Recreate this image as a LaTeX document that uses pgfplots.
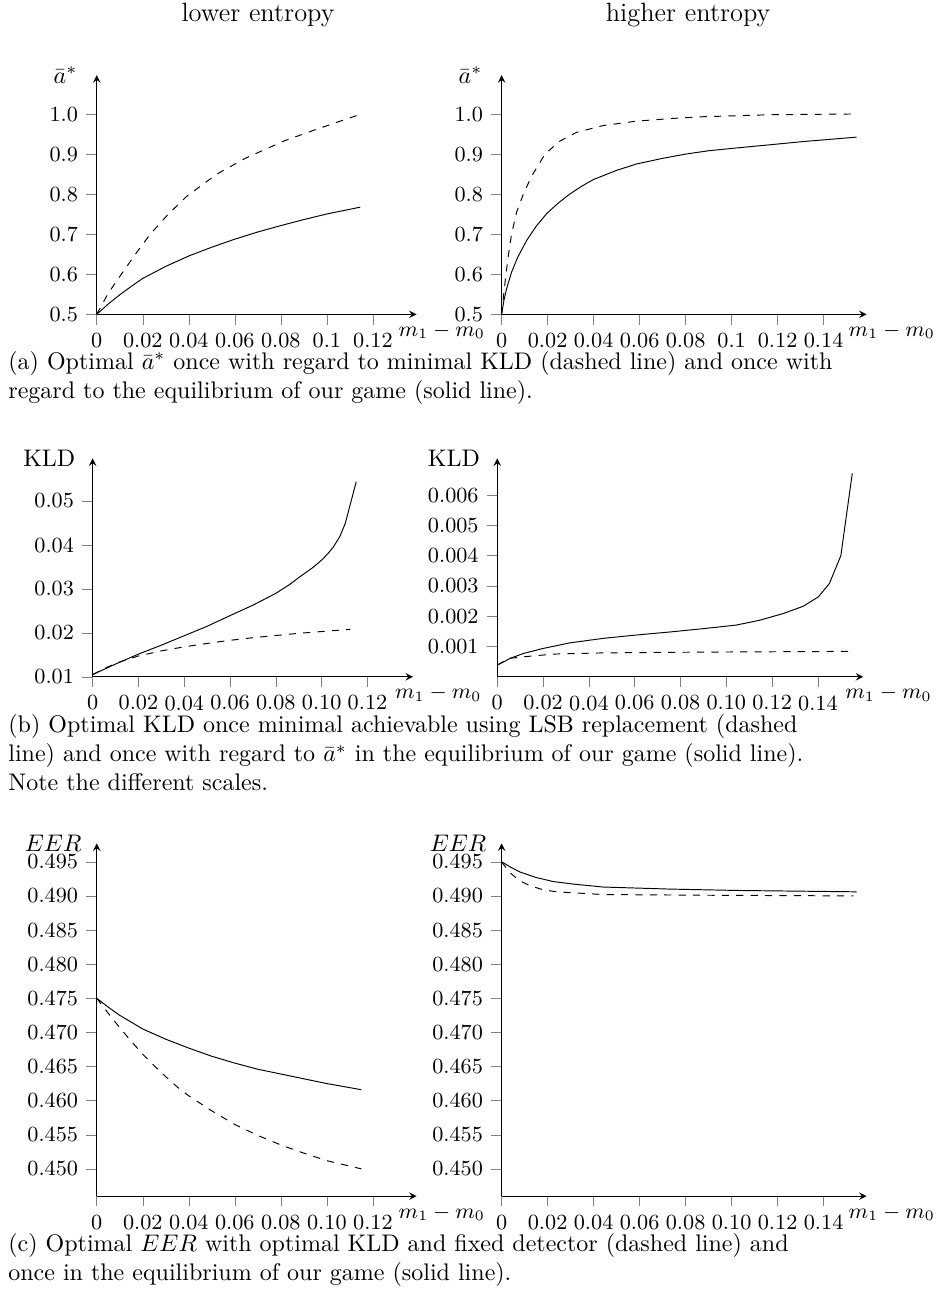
\documentclass[border=0pt]{standalone}
\usepackage{pgfplots}
\pgfplotsset{compat=1.18}
\begin{document}
\begin{tikzpicture}
\useasboundingbox (0pt,0pt) rectangle (390pt,-540pt);
\pgfplotsset{
  myax/.style={
    scale only axis, axis lines=left, tick align=outside,
    anchor=south west, clip=false, enlargelimits=false, scaled ticks=false,
    ticklabel style={font=\small},
    every axis x label/.style={at={(axis description cs:1,0)}, anchor=west, xshift=-11pt, yshift=-7pt, font=\small},
    every axis y label/.style={at={(axis description cs:0,1)}, anchor=east, xshift=-4pt},
  },
  ax a/.style={ymin=0.5, ymax=1.098,
    ytick={0.5,0.6,0.7,0.8,0.9,1.0}, yticklabels={0.5,0.6,0.7,0.8,0.9,1.0},
    ylabel={$\bar{a}^*$}, xlabel={$m_1-m_0$}, ylabel style={xshift=-0.5pt}},
  ax c/.style={ymin=0.4460, ymax=0.4977,
    ytick={0.450,0.455,0.460,0.465,0.470,0.475,0.480,0.485,0.490,0.495},
    yticklabels={0.450,0.455,0.460,0.465,0.470,0.475,0.480,0.485,0.490,0.495},
    ylabel={$EER$}, xlabel={$m_1-m_0$}, ylabel style={xshift=1.2pt}},
}

\node[anchor=base, font=\fontsize{11}{13.6}\selectfont] at (107.5pt,-9pt) {lower entropy};
\node[anchor=base, font=\fontsize{11}{13.6}\selectfont] at (286.7pt,-9pt) {higher entropy};

% ---------------- (a) left
\begin{axis}[myax, ax a, at={(40.3pt,-131pt)}, width=133.3pt, height=99.7pt,
  xmin=0, xmax=0.139,
  xtick={0,0.02,0.04,0.06,0.08,0.1,0.12}, xticklabels={0,0.02,0.04,0.06,0.08,0.1,0.12}]
\addplot[black, dashed, mark=none] coordinates {
(0,0.500) (0.0050,0.553) (0.0109,0.602) (0.0170,0.652) (0.0232,0.700) (0.0310,0.750) (0.0391,0.795) (0.0520,0.850)
(0.0645,0.890) (0.0812,0.933) (0.0942,0.960) (0.1043,0.980) (0.1145,1.000)};
\addplot[black, mark=none] coordinates {
(0,0.500) (0.005,0.526) (0.01,0.549) (0.015,0.570) (0.02,0.590) (0.03,0.620) (0.04,0.646) (0.05,0.668) (0.06,0.688)
(0.07,0.706) (0.08,0.722) (0.09,0.737) (0.10,0.751) (0.1145,0.768)};
\end{axis}

% ---------------- (a) right
\begin{axis}[myax, ax a, at={(209pt,-131pt)}, width=152.1pt, height=99.7pt,
  xmin=0, xmax=0.1587,
  xtick={0,0.02,0.04,0.06,0.08,0.1,0.12,0.14}, xticklabels={0,0.02,0.04,0.06,0.08,0.1,0.12,0.14}]
\addplot[black, dashed, mark=none] coordinates {
(0,0.500) (0.0010,0.555) (0.0019,0.600) (0.0030,0.650) (0.0043,0.700) (0.0065,0.755) (0.0094,0.800)
(0.0130,0.845) (0.0188,0.900) (0.0250,0.932) (0.0326,0.955) (0.0442,0.972) (0.0587,0.983)
(0.0750,0.990) (0.0877,0.994) (0.1167,0.999) (0.1543,1.001)};
\addplot[black, mark=none] coordinates {
(0,0.500) (0.0010,0.535) (0.0022,0.565) (0.0043,0.605) (0.0070,0.643) (0.0109,0.685) (0.0150,0.720)
(0.0196,0.752) (0.0250,0.780) (0.0297,0.801) (0.0350,0.821) (0.0399,0.837) (0.0500,0.860)
(0.0587,0.876) (0.0700,0.890) (0.0804,0.901) (0.0900,0.909) (0.1022,0.916) (0.1150,0.923)
(0.1312,0.932) (0.1543,0.943)};
\end{axis}

\node[anchor=base west, text width=345pt, align=left, inner sep=0pt] at (3.3pt,-154pt)
{(a) Optimal $\bar{a}^*$ once with regard to minimal KLD (dashed line) and once with regard to the equilibrium of our game (solid line).};

% ---------------- (b) left
\begin{axis}[myax, at={(38.6pt,-282pt)}, width=133.5pt, height=91pt,
  xmin=0, xmax=0.1399, ymin=0.01, ymax=0.0597,
  xtick={0,0.02,0.04,0.06,0.08,0.1,0.12}, xticklabels={0,0.02,0.04,0.06,0.08,0.10,0.12},
  ytick={0.01,0.02,0.03,0.04,0.05}, yticklabels={0.01,0.02,0.03,0.04,0.05},
  xlabel={$m_1-m_0$}, ylabel={KLD}, ylabel style={xshift=0.3pt}]
\addplot[black, dashed, mark=none] coordinates {
(0,0.0105) (0.0060,0.0121) (0.0119,0.0134) (0.0197,0.0147) (0.0300,0.0159) (0.0398,0.0168) (0.0500,0.0176)
(0.0599,0.0183) (0.070,0.0189) (0.080,0.0194) (0.090,0.0199) (0.100,0.0203) (0.1125,0.0208)};
\addplot[black, mark=none] coordinates {
(0,0.0105) (0.01,0.0129) (0.0197,0.0151) (0.030,0.0172) (0.0398,0.0193) (0.050,0.0215) (0.0599,0.0239)
(0.070,0.0263) (0.080,0.0290) (0.0860,0.0310) (0.0906,0.0328) (0.0960,0.0348) (0.1001,0.0366)
(0.1030,0.0382) (0.1052,0.0396) (0.1080,0.0420) (0.1103,0.0449) (0.1151,0.0544)};
\end{axis}

% ---------------- (b) right
\begin{axis}[myax, at={(207.2pt,-282pt)}, width=152.5pt, height=91pt,
  xmin=0, xmax=0.1598, ymin=0, ymax=0.00721,
  xtick={0,0.02,0.04,0.06,0.08,0.1,0.12,0.14}, xticklabels={0,0.02,0.04,0.06,0.08,0.10,0.12,0.14},
  ytick={0.001,0.002,0.003,0.004,0.005,0.006}, yticklabels={0.001,0.002,0.003,0.004,0.005,0.006},
  xlabel={$m_1-m_0$}, ylabel={KLD}, ylabel style={xshift=0.3pt}]
\addplot[black, dashed, mark=none] coordinates {
(0,0.000385) (0.0030,0.00052) (0.0055,0.00061) (0.0114,0.00066) (0.0245,0.00075) (0.0463,0.00079)
(0.090,0.000815) (0.155,0.00084)};
\addplot[black, mark=none] coordinates {
(0,0.000385) (0.0030,0.00050) (0.0055,0.000606) (0.0114,0.00077) (0.020,0.000936) (0.0317,0.00112)
(0.0463,0.00127) (0.0608,0.00138) (0.0754,0.00148) (0.090,0.00159) (0.1045,0.00171)
(0.1147,0.00187) (0.1249,0.00209) (0.1336,0.00233) (0.1402,0.00264) (0.145,0.00308)
(0.150,0.0040) (0.155,0.00672)};
\end{axis}

\node[anchor=base west, text width=345pt, align=left, inner sep=0pt] at (3.3pt,-305.4pt)
{(b) Optimal KLD once minimal achievable using LSB replacement (dashed line) and once with regard to $\bar{a}^*$ in the equilibrium of our game (solid line). Note the different scales.};

% ---------------- (c) left
\begin{axis}[myax, ax c, at={(40.3pt,-498.4pt)}, width=133.3pt, height=147pt,
  xmin=0, xmax=0.139,
  xtick={0,0.02,0.04,0.06,0.08,0.1,0.12}, xticklabels={0,0.02,0.04,0.06,0.08,0.10,0.12}]
\addplot[black, dashed, mark=none] coordinates {
(0,0.4750) (0.005,0.4728) (0.010,0.4707) (0.015,0.4687) (0.020,0.4668) (0.025,0.4651) (0.030,0.4635)
(0.035,0.4620) (0.040,0.4607) (0.050,0.4585) (0.060,0.4565) (0.070,0.4549) (0.080,0.4535)
(0.090,0.4523) (0.100,0.4512) (0.115,0.4500)};
\addplot[black, mark=none] coordinates {
(0,0.4750) (0.005,0.4737) (0.01,0.4725) (0.02,0.4705) (0.03,0.4690) (0.04,0.4677) (0.05,0.4665)
(0.06,0.4655) (0.07,0.4646) (0.08,0.4639) (0.09,0.4632) (0.10,0.4625) (0.115,0.4616)};
\end{axis}

% ---------------- (c) right
\begin{axis}[myax, ax c, at={(209pt,-498.4pt)}, width=152.1pt, height=147pt,
  xmin=0, xmax=0.1587,
  xtick={0,0.02,0.04,0.06,0.08,0.1,0.12,0.14}, xticklabels={0,0.02,0.04,0.06,0.08,0.10,0.12,0.14}]
\addplot[black, dashed, mark=none] coordinates {
(0,0.4950) (0.002,0.4941) (0.0043,0.4932) (0.008,0.4922) (0.0123,0.4915) (0.018,0.4909)
(0.0239,0.4906) (0.0442,0.4902) (0.0877,0.4901) (0.1529,0.4900)};
\addplot[black, mark=none] coordinates {
(0,0.4950) (0.004,0.4942) (0.008,0.4935) (0.015,0.4927) (0.0225,0.4921) (0.032,0.4917)
(0.0442,0.4913) (0.0732,0.4910) (0.1022,0.4908) (0.1543,0.4906)};
\end{axis}

\node[anchor=base west, text width=345pt, align=left, inner sep=0pt] at (3.3pt,-521.4pt)
{(c) Optimal $EER$ with optimal KLD and fixed detector (dashed line) and once in the equilibrium of our game (solid line).};
\end{tikzpicture}
\end{document}
